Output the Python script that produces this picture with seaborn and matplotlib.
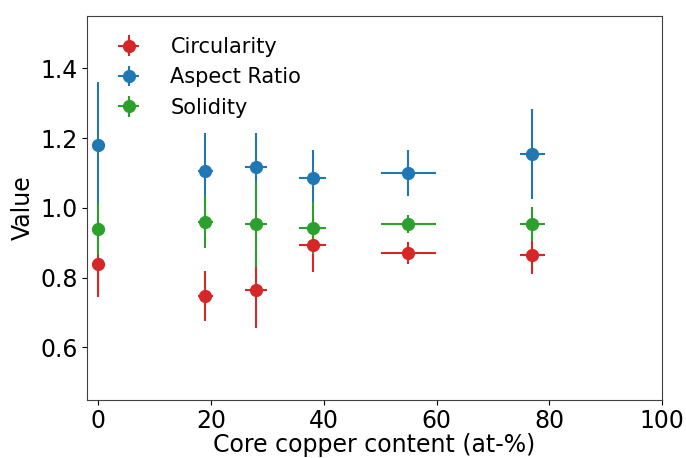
import numpy as np
import matplotlib
matplotlib.use("Agg")
import matplotlib.pyplot as plt
import seaborn as sns

# Core copper content (at-%) and its spread
cu_content = [0, 19, 28, 38, 55, 77]
cu_err = [0, 1.3, 1.9, 2.4, 4.9, 2.2]

circularity = [0.838, 0.747, 0.765, 0.895, 0.870, 0.865]
circularity_err = [0.093, 0.072, 0.110, 0.078, 0.032, 0.054]

aspect_ratio = [1.180, 1.106, 1.116, 1.087, 1.100, 1.155]
aspect_ratio_err = [0.180, 0.108, 0.100, 0.080, 0.067, 0.128]

solidity = [0.940, 0.960, 0.953, 0.942, 0.954, 0.955]
solidity_err = [0.075, 0.074, 0.122, 0.075, 0.026, 0.049]

sns.set_style("ticks", {"text.color": "black", "axes.labelcolor": "black",
                        "xtick.color": "black", "ytick.color": "black",
                        "axes.edgecolor": "0.25"})
plt.rcParams["font.family"] = ["DejaVu Sans"]
palette = sns.color_palette("tab10")

fig, ax = plt.subplots(figsize=(6.86, 4.58), dpi=100)
fig.subplots_adjust(left=0.127, right=0.965, top=0.965, bottom=0.127)

series = [
    ("Circularity", circularity, circularity_err, palette[3]),
    ("Aspect Ratio", aspect_ratio, aspect_ratio_err, palette[0]),
    ("Solidity", solidity, solidity_err, palette[2]),
]
for label, vals, errs, color in series:
    ax.errorbar(cu_content, vals, yerr=errs, xerr=cu_err, fmt="o", color=color,
                markersize=8.5, elinewidth=1.5, label=label)

ax.set_xlim(-2, 100)
ax.set_ylim(0.45, 1.55)
ax.set_xticks([0, 20, 40, 60, 80, 100])
ax.set_yticks([0.6, 0.8, 1.0, 1.2, 1.4])
ax.tick_params(labelsize=17, pad=3)
ax.set_xlabel("Core copper content (at-%)", fontsize=17, labelpad=0)
ax.set_ylabel("Value", fontsize=17, labelpad=4)
ax.legend(loc="upper left", frameon=False, fontsize=15, handletextpad=1.0,
          borderaxespad=0.6)

plt.savefig("out.png", dpi=100)
